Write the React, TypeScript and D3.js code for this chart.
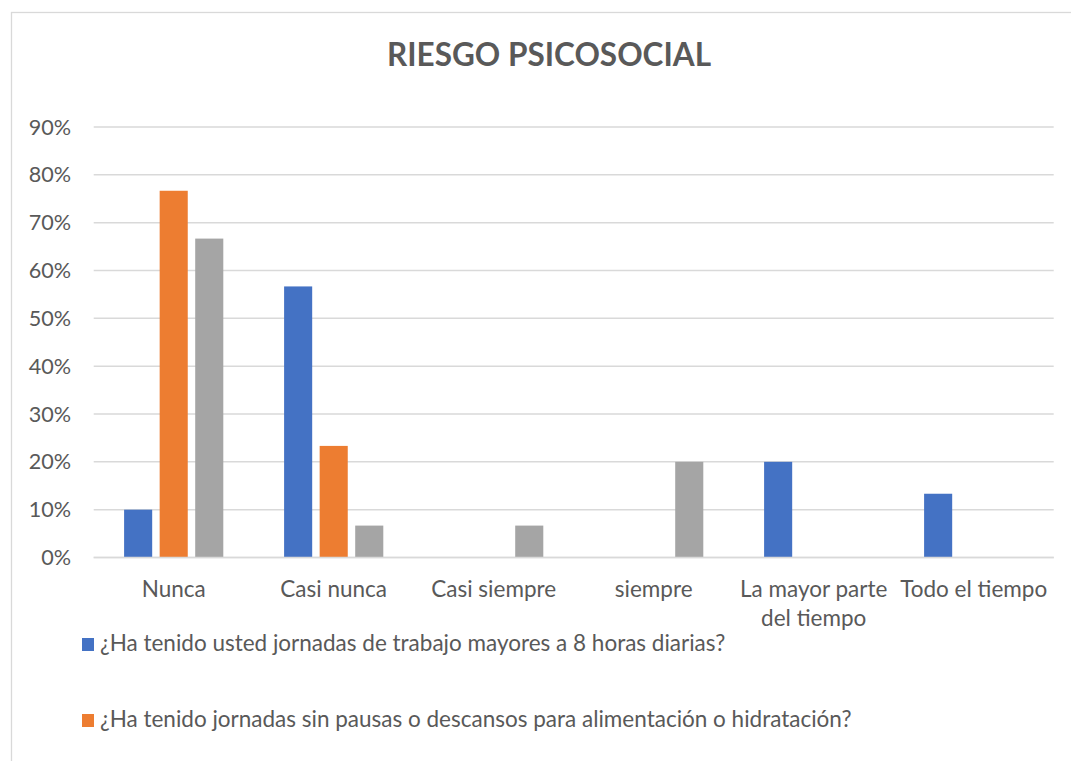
import React, { useEffect, useRef } from "react";
import * as d3 from "d3";

const categories = ["Nunca", "Casi nunca", "Casi siempre", "siempre", "La mayor parte del tiempo", "Todo el tiempo"];
const seriesNames = [
  "¿Ha tenido usted jornadas de trabajo mayores a 8 horas diarias?",
  "¿Ha tenido jornadas sin pausas o descansos para alimentación o hidratación?",
  "",
];
const seriesColors = ["#4472C4", "#ED7D31", "#A5A5A5"];
const serie1 = [0.1, 0.5667, 0, 0, 0.2, 0.1333];
const serie2 = [0.7667, 0.2333, 0, 0, 0, 0];
const serie3 = [0.6667, 0.0667, 0.0667, 0.2, 0, 0];
const seriesValues = [serie1, serie2, serie3];
const yTicks = [0, 0.1, 0.2, 0.3, 0.4, 0.5, 0.6, 0.7, 0.8, 0.9];
const title = "RIESGO PSICOSOCIAL";

const W = 1071;
const H = 761;
const FONT = "Lato, 'Open Sans', sans-serif";
const TXT = "#595959";

export default function App() {
  const ref = useRef<SVGSVGElement | null>(null);

  useEffect(() => {
    const svg = d3.select(ref.current);
    svg.selectAll("*").remove();

    svg.append("rect").attr("x", 0).attr("y", 0).attr("width", W).attr("height", H).attr("fill", "#fff");
    svg.append("rect")
      .attr("x", 11.5).attr("y", 12.5).attr("width", 1200).attr("height", 900)
      .attr("fill", "#fff").attr("stroke", "#d9d9d9").attr("stroke-width", 1.3);

    svg.append("text")
      .attr("x", 549).attr("y", 66)
      .attr("text-anchor", "middle")
      .attr("font-family", FONT).attr("font-weight", 700).attr("font-size", 31.5)
      .attr("fill", TXT)
      .text(title);

    const y = d3.scaleLinear().domain([0, 0.9]).range([557.5, 127]);
    const x0 = d3.scaleBand<string>().domain(categories).range([93.7, 1053.7]).paddingInner(0).paddingOuter(0);
    const bw = x0.bandwidth();
    const x1 = d3.scaleBand<number>().domain(d3.range(seriesValues.length)).range([bw * 0.19, bw * 0.81]).paddingInner(0.21).paddingOuter(0);

    const grid = svg.append("g");
    grid.selectAll("line").data(yTicks).join("line")
      .attr("x1", 93.7).attr("x2", 1053.7)
      .attr("y1", (d) => y(d)).attr("y2", (d) => y(d))
      .attr("stroke", "#d9d9d9").attr("stroke-width", 1.5);

    svg.append("g").selectAll("text").data(yTicks).join("text")
      .attr("x", 71).attr("y", (d) => y(d))
      .attr("dy", "0.35em")
      .attr("text-anchor", "end")
      .attr("font-family", FONT).attr("font-size", 21.6)
      .attr("fill", TXT)
      .text((d) => d3.format(".0%")(d));

    seriesValues.forEach((vals, si) => {
      svg.append("g").selectAll("rect").data(vals.map((v, i) => ({ v, c: categories[i] }))).join("rect")
        .filter((d) => d.v > 0)
        .attr("x", (d) => (x0(d.c) as number) + (x1(si) as number))
        .attr("width", x1.bandwidth())
        .attr("y", (d) => y(d.v))
        .attr("height", (d) => y(0) - y(d.v))
        .attr("fill", seriesColors[si]);
    });

    svg.append("line").attr("x1", 93.7).attr("x2", 1053.7).attr("y1", y(0)).attr("y2", y(0))
      .attr("stroke", "#d9d9d9").attr("stroke-width", 1.5);

    const xl = svg.append("g");
    categories.forEach((c) => {
      const cx = (x0(c) as number) + bw / 2;
      const t = xl.append("text")
        .attr("x", cx).attr("y", 597)
        .attr("text-anchor", "middle")
        .attr("font-family", FONT).attr("font-size", 22.5)
        .attr("fill", TXT);
      const words = c.split(" ");
      let line: string[] = [];
      let ts = t.append("tspan").attr("x", cx).attr("dy", 0);
      words.forEach((w) => {
        line.push(w);
        ts.text(line.join(" "));
        if ((ts.node() as SVGTSpanElement).getComputedTextLength() > bw - 2 && line.length > 1) {
          line.pop();
          ts.text(line.join(" "));
          line = [w];
          ts = t.append("tspan").attr("x", cx).attr("dy", 29).text(w);
        }
      });
    });

    const legend = svg.append("g");
    seriesNames.forEach((name, i) => {
      if (!name) return;
      const ly = 651 + i * 76;
      legend.append("rect").attr("x", 82).attr("y", ly - 13).attr("width", 12).attr("height", 13).attr("fill", seriesColors[i]);
      legend.append("text")
        .attr("x", 100).attr("y", ly)
        .attr("font-family", FONT).attr("font-size", 22.5)
        .attr("fill", TXT)
        .text(name);
    });
  }, []);

  return (
    <svg
      ref={ref}
      width={W}
      height={H}
      style={{ position: "fixed", left: 0, top: 0, display: "block" }}
    />
  );
}
